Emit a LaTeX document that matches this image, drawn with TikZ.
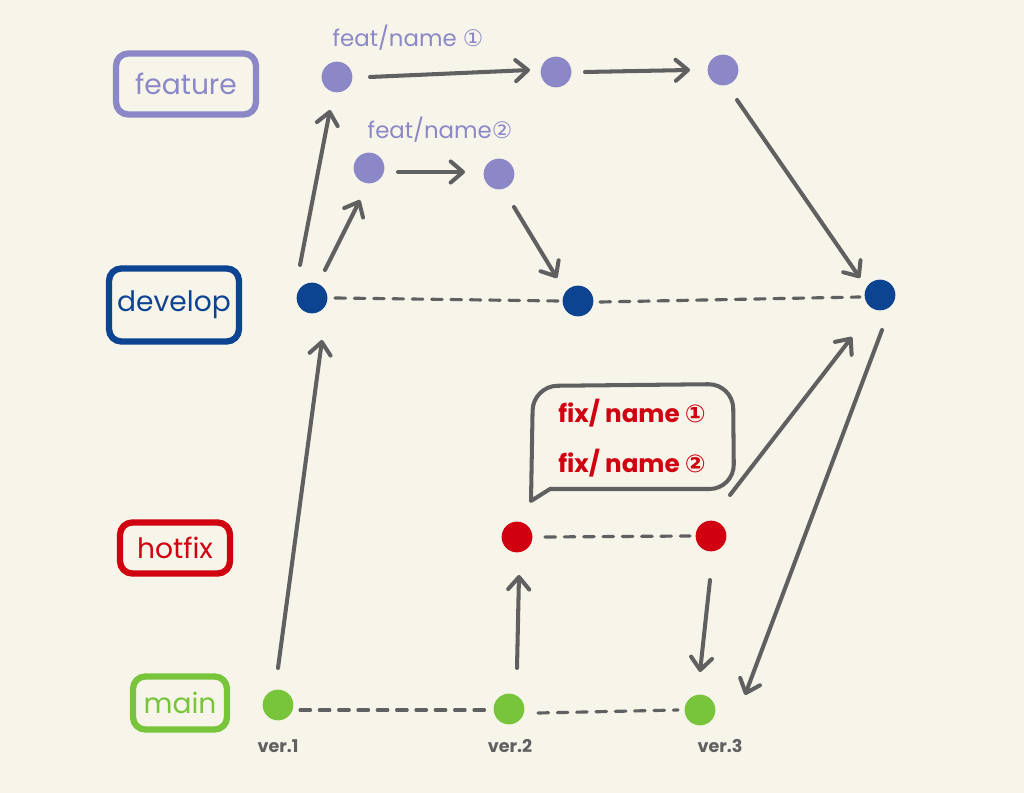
\documentclass[tikz,border=0pt]{standalone}
\usepackage{fontspec}
\setmainfont{Poppins}
\newfontfamily\numfont{DejaVu Sans}
\usetikzlibrary{arrows.meta,calc}
\definecolor{paper}{RGB}{247,245,234}
\definecolor{featc}{RGB}{140,136,200}
\definecolor{devc}{RGB}{12,68,146}
\definecolor{hotc}{RGB}{208,0,16}
\definecolor{mainc}{RGB}{120,196,58}
\definecolor{ink}{RGB}{96,96,96}
\newcommand{\circno}[1]{{\numfont #1}}

\begin{document}
\begin{tikzpicture}[x=0.02cm,y=-0.02cm,
  dot/.style={circle,fill=#1,minimum size=17.5pt,inner sep=0pt},
  tag/.style={draw=#1,text=#1,line width=3.6pt,rounded corners=7pt,inner sep=0pt,font=\fontsize{16}{18}\selectfont},
  flow/.style={draw=ink,line width=2.3pt,line cap=round,-{Straight Barb[length=7pt,width=12pt,round]}},
  link/.style={draw=ink,line width=1.8pt,line cap=round,dash pattern=on 6pt off 5pt},
  ver/.style={text=ink,font=\bfseries\fontsize{10}{12}\selectfont}]
\fill[paper](0,0) rectangle (1024,793);
\useasboundingbox (0,0) rectangle (1024,793);

% branch tags
\node[tag=featc,minimum width=2.8cm,minimum height=1.22cm](tfeat) at (186,84){feature};
\node[tag=devc,minimum width=2.6cm,minimum height=1.46cm](tdev) at (174,305){develop};
\node[tag=hotc,minimum width=2.2cm,minimum height=1.02cm](thot) at (175,548){hotfix};
\node[tag=mainc,minimum width=1.88cm,minimum height=1.06cm](tmain) at (180,703){main};

% commits
\node[dot=featc](f1) at (337,77){};
\node[dot=featc](f2) at (556,72){};
\node[dot=featc](f3) at (723,70){};
\node[dot=featc](n1) at (369,168){};
\node[dot=featc](n2) at (499,174){};
\node[dot=devc](d1) at (312,298){};
\node[dot=devc](d2) at (578,301){};
\node[dot=devc](d3) at (880,295){};
\node[dot=hotc](h1) at (517,537){};
\node[dot=hotc](h2) at (711,536){};
\node[dot=mainc](m1) at (278,705){};
\node[dot=mainc](m2) at (509,709){};
\node[dot=mainc](m3) at (700,710){};

\node[text=featc,font=\fontsize{13}{15}\selectfont](lf1) at (408,38){feat/name \circno{①}};
\node[text=featc,font=\fontsize{13}{15}\selectfont](lf2) at (440,130){feat/name\circno{②}};
\node[ver](v1) at (278,746){ver.1};
\node[ver](v2) at (510,746){ver.2};
\node[ver](v3) at (720,746){ver.3};

% hotfix callout
\draw[ink,line width=2.3pt,line join=round] (550,489) -- (531,501) [rounded corners=14pt] -- (533,386) -- (733,384) -- (734,489) [sharp corners] -- cycle;
\coordinate (tip) at (730,495);
\node[text=hotc,font=\bfseries\fontsize{14}{16}\selectfont](lh1) at (632,413){fix/ name \circno{①}};
\node[text=hotc,font=\bfseries\fontsize{14}{16}\selectfont](lh2) at (632,463){fix/ name \circno{②}};

% merges
\draw[flow]($(f1)+(33,0)$) -- ($(f2)+(-26,-2)$);
\draw[flow]($(f2)+(29,0)$) -- ($(f3)+(-33,0)$);
\draw[flow]($(n1)+(29,4)$) -- ($(n2)+(-34,-2)$);
\draw[flow]($(f3)+(14,30)$) -- ($(d3)+(-20,-17)$);
\draw[flow]($(n2)+(15,33)$) -- ($(d2)+(-21,-23)$);
\draw[flow]($(d1)+(-12,-33)$) -- ($(f1)+(-7,33)$);
\draw[flow]($(d1)+(13,-28)$) -- ($(n1)+(-9,32)$);
\draw[flow]($(m1)+(0,-37)$) -- ($(d1)+(10,42)$);
\draw[flow]($(m2)+(8,-41)$) -- ($(h1)+(2,38)$);
\draw[flow]($(h2)+(-1,44)$) -- ($(m3)+(0,-38)$);
\draw[flow](tip) -- ($(d3)+(-28,42)$);
\draw[flow]($(d3)+(2,35)$) -- ($(m3)+(45,-15)$);

% dashed links
\draw[link]($(d1)+(23,0)$) -- ($(d2)+(-18,0)$);
\draw[link]($(d2)+(22,1)$) -- ($(d3)+(-20,2)$);
\draw[link]($(h1)+(28,0)$) -- ($(h2)+(-21,0)$);
\draw[link]($(m1)+(22,5)$) -- ($(m2)+(-19,1)$);
\draw[link]($(m2)+(29,4)$) -- ($(m3)+(-22,0)$);
\end{tikzpicture}
\end{document}
